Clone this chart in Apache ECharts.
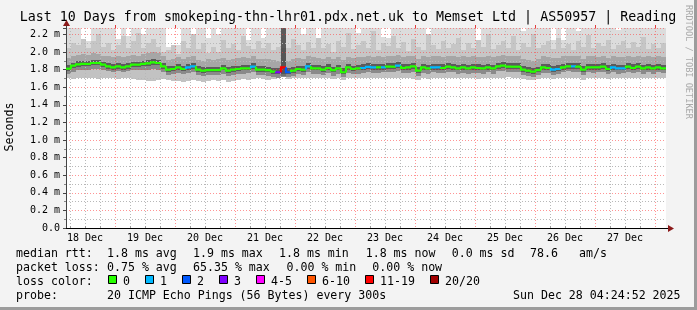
<!DOCTYPE html>
<html><head><meta charset="utf-8">
<script src="https://cdn.jsdelivr.net/npm/echarts@6/dist/echarts.min.js"></script>
<style>html,body{margin:0;padding:0;background:#f3f3f3;overflow:hidden}#c{width:697px;height:310px}</style>
</head><body><div id="c"></div>
<script>
// ---- time frame (hours from graph start, Dec 18 04:24:52) ----
const START = Date.UTC(2025, 11, 18, 4, 24, 52);
const SPAN_H = 240;
const BIN_H = 2;
const YMAX = 2.2727;
const dayLabels = ['18 Dec','19 Dec','20 Dec','21 Dec','22 Dec','23 Dec','24 Dec','25 Dec','26 Dec','27 Dec'];
const labelDays = [18,19,20,21,22,23,24,25,26,27];
const midnightDays = [19,20,21,22,23,24,25,26,27,28];

// ---- median rtt per 2h bin ----
const median = [
1.81,1.845,1.86,1.864,1.864,1.875,1.875,1.856,1.837,1.826,
1.837,1.826,1.837,1.856,1.856,1.864,1.871,1.883,1.875,1.837,
1.80,1.807,1.826,1.807,1.826,1.837,1.80,1.788,1.795,1.795,
1.795,1.814,1.788,1.80,1.807,1.814,1.814,1.833,1.80,1.80,
1.795,1.777,1.77,1.826,1.77,1.788,1.807,1.80,1.837,1.814,
1.814,1.80,1.818,1.795,1.814,1.77,1.826,1.807,1.814,1.818,
1.83,1.826,1.826,1.826,1.833,1.833,1.845,1.818,1.826,1.837,
1.788,1.826,1.814,1.826,1.826,1.818,1.833,1.826,1.814,1.826,
1.814,1.826,1.818,1.814,1.826,1.814,1.837,1.845,1.833,1.833,
1.833,1.80,1.788,1.777,1.795,1.826,1.818,1.80,1.807,1.826,
1.837,1.837,1.833,1.80,1.826,1.826,1.826,1.833,1.807,1.826,
1.814,1.814,1.833,1.818,1.833,1.814,1.826,1.814,1.826,1.814];
// loss class index per bin (0 = no loss ... 7 = 20/20)
const loss = [
0,0,0,0,0,0,0,0,0,0, 0,0,0,0,0,0,0,0,0,0,
0,0,0,0,1,1,0,0,0,0, 0,0,0,0,0,0,0,1,0,0,
0,0,3,6,2,0,0,0,1,0, 0,0,0,0,0,0,0,0,0,1,
1,1,0,1,0,0,1,0,0,0, 0,0,0,1,1,0,0,0,0,0,
0,0,0,0,0,0,0,0,0,0, 0,0,0,0,0,0,0,1,1,0,
0,1,0,0,0,0,0,0,0,1, 1,1,0,0,0,0,0,0,0,0];
// smoke: ping distribution per bin
const smokeMin = [
1.70,1.69,1.70,1.71,1.70,1.70,1.69,1.70,1.71,1.70,
1.69,1.70,1.70,1.69,1.68,1.68,1.67,1.67,1.68,1.69,
1.68,1.67,1.67,1.66,1.67,1.68,1.67,1.66,1.67,1.68,
1.67,1.68,1.66,1.67,1.68,1.69,1.68,1.69,1.70,1.69,
1.68,1.69,1.70,1.72,1.69,1.70,1.71,1.70,1.71,1.70,
1.71,1.70,1.70,1.69,1.70,1.68,1.70,1.71,1.70,1.70,
1.71,1.70,1.70,1.71,1.70,1.71,1.70,1.70,1.71,1.69,
1.68,1.70,1.69,1.70,1.70,1.71,1.70,1.71,1.70,1.70,
1.71,1.70,1.69,1.70,1.70,1.71,1.70,1.71,1.72,1.71,
1.70,1.69,1.68,1.68,1.69,1.70,1.70,1.69,1.70,1.71,
1.70,1.71,1.70,1.68,1.70,1.71,1.70,1.71,1.69,1.70,
1.70,1.71,1.70,1.70,1.71,1.70,1.71,1.70,1.71,1.70];
const smokeP10 = [
1.75,1.77,1.79,1.80,1.80,1.81,1.81,1.79,1.78,1.77,
1.78,1.77,1.78,1.79,1.79,1.80,1.80,1.81,1.80,1.77,
1.74,1.75,1.76,1.75,1.76,1.77,1.74,1.73,1.74,1.74,
1.74,1.75,1.73,1.74,1.75,1.75,1.76,1.77,1.74,1.74,
1.73,1.72,1.71,1.73,1.72,1.73,1.75,1.74,1.77,1.75,
1.75,1.74,1.76,1.73,1.75,1.72,1.76,1.75,1.75,1.76,
1.77,1.76,1.76,1.77,1.77,1.77,1.78,1.76,1.76,1.77,
1.73,1.76,1.75,1.77,1.76,1.76,1.77,1.77,1.75,1.76,
1.75,1.76,1.76,1.75,1.77,1.75,1.78,1.78,1.77,1.77,
1.77,1.74,1.73,1.72,1.74,1.76,1.76,1.74,1.75,1.77,
1.78,1.77,1.77,1.74,1.77,1.76,1.77,1.77,1.75,1.77,
1.75,1.76,1.77,1.76,1.77,1.75,1.77,1.75,1.77,1.76];
const smokeP25 = [
1.78,1.82,1.835,1.84,1.84,1.85,1.85,1.83,1.81,1.80,
1.81,1.80,1.81,1.83,1.83,1.84,1.845,1.855,1.85,1.81,
1.775,1.78,1.80,1.78,1.80,1.81,1.775,1.765,1.77,1.77,
1.77,1.79,1.765,1.775,1.78,1.79,1.79,1.805,1.775,1.775,
1.77,1.75,1.745,1.75,1.745,1.765,1.78,1.775,1.81,1.79,
1.79,1.775,1.795,1.77,1.79,1.745,1.80,1.78,1.79,1.795,
1.805,1.80,1.80,1.80,1.81,1.81,1.82,1.795,1.80,1.81,
1.765,1.80,1.79,1.80,1.80,1.795,1.81,1.80,1.79,1.80,
1.79,1.80,1.795,1.79,1.80,1.79,1.81,1.82,1.81,1.81,
1.81,1.775,1.765,1.75,1.77,1.80,1.795,1.775,1.78,1.80,
1.81,1.81,1.81,1.775,1.80,1.80,1.80,1.81,1.78,1.80,
1.79,1.79,1.81,1.795,1.81,1.79,1.80,1.79,1.80,1.79];
const smokeP75 = [
1.85,1.88,1.895,1.90,1.90,1.91,1.91,1.89,1.875,1.865,
1.875,1.865,1.875,1.89,1.89,1.90,1.905,1.915,1.91,1.875,
1.84,1.845,1.865,1.845,1.865,1.875,1.84,1.83,1.835,1.835,
1.835,1.85,1.83,1.84,1.845,1.85,1.855,1.87,1.84,1.84,
1.835,1.82,1.815,1.90,1.815,1.83,1.845,1.84,1.875,1.855,
1.855,1.84,1.86,1.835,1.855,1.815,1.865,1.845,1.855,1.86,
1.87,1.865,1.865,1.865,1.87,1.875,1.885,1.86,1.865,1.875,
1.83,1.865,1.855,1.865,1.865,1.86,1.87,1.865,1.855,1.865,
1.855,1.865,1.86,1.855,1.865,1.855,1.875,1.885,1.87,1.875,
1.87,1.84,1.83,1.82,1.835,1.865,1.86,1.845,1.85,1.865,
1.875,1.875,1.87,1.84,1.865,1.865,1.865,1.87,1.85,1.865,
1.855,1.855,1.87,1.86,1.87,1.855,1.865,1.855,1.865,1.855];
const smokeP90 = [
1.93,1.95,1.97,1.98,1.97,1.99,1.98,1.96,1.95,1.94,
1.95,1.94,1.96,1.97,1.96,1.98,1.99,2.00,1.99,1.95,
1.91,1.92,1.94,1.92,1.94,1.95,1.91,1.90,1.92,1.91,
1.92,1.93,1.91,1.92,1.93,1.94,1.93,1.95,1.92,1.92,
1.92,1.91,1.90,2.05,1.90,1.92,1.93,1.92,1.95,1.94,
1.93,1.92,1.94,1.92,1.94,1.91,1.94,1.93,1.94,1.94,
1.95,1.94,1.95,1.94,1.96,1.95,1.97,1.94,1.95,1.96,
1.92,1.95,1.94,1.95,1.95,1.94,1.96,1.95,1.94,1.95,
1.94,1.95,1.94,1.94,1.95,1.94,1.96,1.97,1.95,1.96,
1.95,1.92,1.91,1.90,1.92,1.95,1.94,1.93,1.93,1.95,
1.96,1.96,1.95,1.92,1.95,1.95,1.94,1.95,1.93,1.95,
1.94,1.94,1.95,1.94,1.95,1.94,1.95,1.94,1.95,1.94];
const smokeP95 = [
2.05,2.10,2.08,2.15,2.04,2.12,2.20,2.06,2.10,2.02,
2.08,2.18,2.05,2.12,2.22,2.04,2.10,2.15,2.06,2.00,
2.02,2.08,1.98,2.12,2.05,2.20,2.03,2.10,1.99,2.06,
2.00,2.14,2.05,2.09,2.02,2.18,2.07,2.03,2.12,2.04,
2.10,2.02,2.06,2.27,2.04,2.15,2.08,2.02,2.11,2.05,
2.16,2.04,2.09,2.00,2.13,2.06,2.22,2.03,2.08,2.12,
2.05,2.24,2.02,2.10,2.07,2.18,2.04,2.11,2.01,2.15,
2.06,2.02,2.20,2.08,2.03,2.12,2.05,2.09,2.16,2.02,
2.10,2.04,2.14,2.06,2.21,2.03,2.08,2.12,2.05,2.18,
2.02,2.10,2.06,2.20,2.04,2.08,2.13,2.03,2.16,2.05,
2.09,2.02,2.12,2.06,2.19,2.04,2.10,2.07,2.14,2.03,
2.08,2.13,2.04,2.11,2.06,2.17,2.03,2.09,2.05,2.10];
const smokeMax = [
2.28,2.28,2.28,2.15,2.12,2.28,2.28,2.28,2.28,2.28,
2.15,2.28,2.18,2.28,2.28,2.20,2.28,2.28,2.28,2.28,
2.06,2.05,2.08,2.28,2.28,2.10,2.28,2.28,2.16,2.28,
2.20,2.28,2.28,2.28,2.28,2.28,2.14,2.28,2.28,2.16,
2.28,2.28,2.28,2.28,2.28,2.28,2.28,2.20,2.28,2.28,
2.14,2.28,2.28,2.28,2.28,2.28,2.28,2.28,2.22,2.28,
2.28,2.28,2.28,2.17,2.16,2.28,2.28,2.28,2.28,2.28,
2.28,2.28,2.10,2.28,2.28,2.28,2.28,2.28,2.28,2.28,
2.28,2.28,2.07,2.28,2.28,2.28,2.28,2.28,2.28,2.28,
2.28,2.24,2.28,2.28,2.28,2.28,2.28,2.14,2.28,2.14,
2.28,2.28,2.24,2.28,2.28,2.28,2.28,2.28,2.28,2.28,
2.25,2.28,2.28,2.28,2.28,2.28,2.28,2.28,2.28,2.28];

// ---- legend content ----
const lossColors = ['#26ff00','#00b8ff','#0059ff','#7e00ff','#ff00ff','#ff5500','#ff0000','#a10000'];
const lossLabels = ['0','1','2','3','4-5','6-10','11-19','20/20'];
const titleText = 'Last 10 Days from smokeping-thn-lhr01.pdx.net.uk to Memset Ltd | AS50957 | Reading';
const rttRow = [['median rtt:',16],['1.8 ms avg',107],['1.9 ms max',193],['1.8 ms min',279],['1.8 ms now',365.7],['0.0 ms sd',451.7],['78.6',530],['am/s',579]];
const lossRow = [['packet loss:',16],['0.75 % avg',107],['65.35 % max',193],['0.00 % min',286.5],['0.00 % now',372.3]];
const probeRow = [['probe:',16],['20 ICMP Echo Pings (56 Bytes) every 300s',107],['Sun Dec 28 04:24:52 2025',513]];

// ---- derived positions (hours since start) ----
const H = 3600000;
const hoursOf = (d, h) => (Date.UTC(2025, 11, d, h, 0, 0) - START) / H;
const noonPos = labelDays.map(d => hoursOf(d, 12));
const midPos = midnightDays.map(d => hoursOf(d, 0));
const minorPos = [];
for (let d = 18; d <= 28; d++) for (const h of [6, 12, 18]) { const v = hoursOf(d, h); if (v > 0 && v < SPAN_H) minorPos.push(v); }

const smokeData = median.map((m, i) => [i * BIN_H + BIN_H / 2, smokeMin[i], smokeP10[i], smokeP25[i], smokeP75[i], smokeP90[i], smokeP95[i], smokeMax[i], loss[i], m, i > 0 ? median[i - 1] : m]);

const smokeColors = ['#c2c2c2', '#8a8a8a', '#5c5c5c', '#a6a6a6', '#c6c6c6', '#dcdcdc'];
const smokeColorsLoss = ['#8a8a8a', '#707070', '#555555', '#555555', '#5a5a5a', '#606060'];

function renderSmoke(params, api) {
  const c = api.value(0);
  const x0 = Math.round(api.coord([c - BIN_H / 2, 0])[0]);
  const x1 = Math.round(api.coord([c + BIN_H / 2, 0])[0]);
  const cols = api.value(8) >= 6 ? smokeColorsLoss : smokeColors;
  const children = [];
  for (let k = 1; k <= 6; k++) {
    const lo = Math.min(api.value(k), YMAX), hi = Math.min(api.value(k + 1), YMAX);
    const yA = Math.round(api.coord([c, lo])[1]);
    const yB = Math.round(api.coord([c, hi])[1]);
    if (yA > yB) children.push({ type: 'rect', shape: { x: x0, y: yB, width: x1 - x0, height: yA - yB }, style: { fill: cols[k - 1] } });
  }
  return { type: 'group', children };
}
function renderMedian(params, api) {
  const c = api.value(0);
  const x0 = api.coord([c - BIN_H / 2, 0])[0];
  const x1 = api.coord([c + BIN_H / 2, 0])[0];
  const y = api.coord([c, api.value(9)])[1];
  const yp = api.coord([c, api.value(10)])[1];
  return { type: 'polyline', shape: { points: [[x0, yp], [x0, y], [x1, y]] }, style: { stroke: lossColors[api.value(8)], lineWidth: 2.2, fill: null } };
}

const FONT = "'DejaVu Sans Mono', monospace";
const gridLineMinor = { show: true, lineStyle: { color: '#b8b8b8', type: [1, 2], width: 1 } };
const gridLineMajor = { show: true, lineStyle: { color: 'rgba(255,60,60,0.55)', type: [1, 2], width: 1 } };

const graphics = [];
graphics.push({ type: 'rect', shape: { x: 0, y: 0, width: 697, height: 310 }, style: { fill: '#f3f3f3' }, z: -10, silent: true });
graphics.push({ type: 'line', shape: { x1: 695.5, y1: 0, x2: 695.5, y2: 310 }, style: { stroke: '#9c9c9c', lineWidth: 3 }, z: 10 });
graphics.push({ type: 'line', shape: { x1: 0, y1: 308.5, x2: 697, y2: 308.5 }, style: { stroke: '#9c9c9c', lineWidth: 3 }, z: 10 });
graphics.push({ type: 'text', x: 348, y: 18, style: { text: titleText, font: "13.3px " + FONT, fill: '#000', textAlign: 'center', textVerticalAlign: 'middle' }, z: 10 });
graphics.push({ type: 'text', x: 688, y: 62, rotation: -Math.PI / 2, style: { text: 'RRDTOOL / TOBI OETIKER', font: "8.6px " + FONT, fill: '#aaaaaa', textAlign: 'center', textVerticalAlign: 'middle' }, z: 10 });
graphics.push({ type: 'text', x: 10, y: 127, rotation: Math.PI / 2, style: { text: 'Seconds', font: "11.6px " + FONT, fill: '#000', textAlign: 'center', textVerticalAlign: 'middle' }, z: 10 });
graphics.push({ type: 'line', shape: { x1: 66.5, y1: 28, x2: 66.5, y2: 23 }, style: { stroke: '#444', lineWidth: 1 }, z: 10 });
graphics.push({ type: 'polygon', shape: { points: [[63, 26], [70, 26], [66.5, 20]] }, style: { fill: '#8b1a1a' }, z: 10 });
graphics.push({ type: 'line', shape: { x1: 666, y1: 228.5, x2: 669, y2: 228.5 }, style: { stroke: '#000', lineWidth: 1 }, z: 10 });
graphics.push({ type: 'polygon', shape: { points: [[668, 225], [668, 232], [674, 228.5]] }, style: { fill: '#8b1a1a' }, z: 10 });
const legendFont = "11.6px " + FONT;
function addRow(row, y) { row.forEach(([t, x]) => graphics.push({ type: 'text', x, y, style: { text: t, font: legendFont, fill: '#000', textVerticalAlign: 'middle' }, z: 10 })); }
addRow(rttRow, 254);
addRow(lossRow, 268);
addRow([['loss color:', 16]], 282);
let bx = 108;
lossLabels.forEach((lab, i) => {
  graphics.push({ type: 'rect', shape: { x: bx + 0.5, y: 275.5, width: 8, height: 8 }, style: { fill: lossColors[i], stroke: '#000', lineWidth: 1 }, z: 10 });
  graphics.push({ type: 'text', x: bx + 15, y: 282, style: { text: lab, font: legendFont, fill: '#000', textVerticalAlign: 'middle' }, z: 10 });
  bx += 15 + lab.length * 7 + 15;
});
addRow(probeRow, 296);

const chart = echarts.init(document.getElementById('c'), null, { renderer: 'canvas' });
chart.setOption({
  animation: false,
  backgroundColor: '#f3f3f3',
  grid: { left: 66, top: 28, width: 600, height: 200, show: true, backgroundColor: '#ffffff', borderWidth: 0, outerBoundsMode: 'none', containLabel: false },
  xAxis: [
    { type: 'value', min: 0, max: SPAN_H, z: 3,
      axisLine: { show: true, onZero: false, lineStyle: { color: '#000', width: 1 } },
      axisTick: { show: false },
      axisLabel: { show: true, customValues: noonPos, margin: 5, color: '#000', fontFamily: FONT, fontSize: 10,
        formatter: v => dayLabels[Math.round((v - noonPos[0]) / 24)] },
      splitLine: { show: false } },
    { type: 'value', min: 0, max: SPAN_H, z: 2,
      axisLine: { show: false }, axisLabel: { show: false },
      axisTick: { show: true, customValues: minorPos, length: 2, lineStyle: { color: '#999' } },
      splitLine: gridLineMinor },
    { type: 'value', min: 0, max: SPAN_H, z: 2,
      axisLine: { show: false }, axisLabel: { show: false },
      axisTick: { show: true, customValues: midPos, length: 3, lineStyle: { color: '#e04040' } },
      splitLine: gridLineMajor }
  ],
  yAxis: {
    type: 'value', min: 0, max: YMAX, interval: 0.2, z: 3,
    axisLine: { show: true, lineStyle: { color: '#444', width: 1 } },
    axisTick: { show: true, length: 3, lineStyle: { color: '#444' } },
    minorTick: { show: true, splitNumber: 2, length: 2, lineStyle: { color: '#888' } },
    axisLabel: { showMaxLabel: false, margin: 6, color: '#000', fontFamily: FONT, fontSize: 10,
      formatter: v => (Math.abs(v) < 1e-9 ? '0.0' : v.toFixed(1) + ' m') },
    splitLine: gridLineMajor,
    minorSplitLine: gridLineMinor
  },
  series: [
    { type: 'custom', name: 'smoke', xAxisIndex: 0, renderItem: renderSmoke, data: smokeData, clip: true, z: 1, silent: true, encode: { x: 0, y: 1 } },
    { type: 'custom', name: 'median', xAxisIndex: 0, renderItem: renderMedian, data: smokeData, clip: true, z: 5, silent: true, encode: { x: 0, y: 9 } }
  ],
  graphic: graphics
});
</script></body></html>
